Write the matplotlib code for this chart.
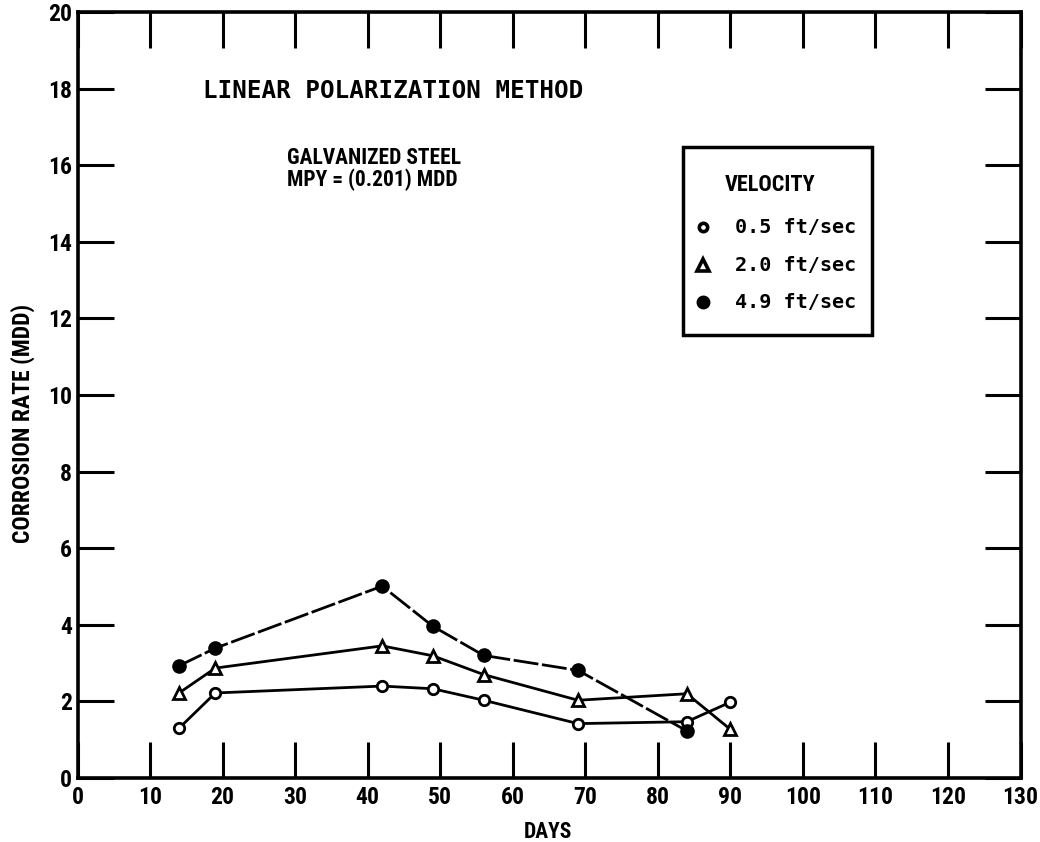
import matplotlib
matplotlib.use("Agg")
import matplotlib.pyplot as plt
from matplotlib import font_manager as fm
from matplotlib.patches import Rectangle

# ---- data ----
days_05 = [14, 19, 42, 49, 56, 69, 84, 90]
rate_05 = [1.30, 2.22, 2.40, 2.33, 2.03, 1.42, 1.47, 1.98]
days_20 = [14, 19, 42, 49, 56, 69, 84, 90]
rate_20 = [2.22, 2.87, 3.45, 3.19, 2.70, 2.03, 2.20, 1.27]
days_49 = [14, 19, 42, 49, 56, 69, 84]
rate_49 = [2.93, 3.39, 5.01, 3.96, 3.20, 2.81, 1.23]
velocity_labels = ["0.5 ft/sec", "2.0 ft/sec", "4.9 ft/sec"]
x_ticks = list(range(0, 131, 10))
y_ticks = list(range(0, 21, 2))

# pick a narrow bold font if one exists
entries = fm.fontManager.ttflist
names = {f.name for f in entries}
narrow_family = None
narrow_stretch = "normal"
for cand in ["Liberation Sans Narrow", "Roboto Condensed", "Open Sans Condensed",
             "DejaVu Sans Condensed", "Arial Narrow"]:
    if cand in names:
        narrow_family = cand
        break
if narrow_family is None:
    for f in entries:
        if f.name in ("DejaVu Sans", "Roboto", "Open Sans", "Noto Sans") and \
                str(f.stretch) in ("condensed", "semi-condensed", "extra-condensed"):
            narrow_family = f.name
            narrow_stretch = f.stretch
            break
if narrow_family is None:
    narrow_family = "DejaVu Sans"
NF = dict(fontfamily=narrow_family, fontstretch=narrow_stretch, fontweight="bold")
mono = "DejaVu Sans Mono"

fig = plt.figure(figsize=(10.4, 8.42), dpi=100)
ax = fig.add_axes([77.5/1040, 64/842, 943/1040, 766/842])
ax.set_xlim(0, 130)
ax.set_ylim(0, 20)

lw = 2.0
ax.plot(days_05, rate_05, color="black", lw=lw, marker="o", ms=7.5,
        mfc="white", mec="black", mew=2.0, zorder=3)
ax.plot(days_20, rate_20, color="black", lw=lw, marker="^", ms=9,
        mfc="white", mec="black", mew=2.0, zorder=3)
ax.plot(days_49, rate_49, color="black", lw=lw, marker="o", ms=9.5,
        mfc="black", mec="black", ls=(0, (9, 1.3)), zorder=3)

for s in ax.spines.values():
    s.set_linewidth(2.6)

ax.set_xticks(x_ticks)
ax.set_yticks(y_ticks)
ax.tick_params(axis="both", direction="in", length=26, width=2.2,
               top=True, right=True, labelsize=17)
ax.tick_params(axis="x", pad=6)
ax.tick_params(axis="y", pad=4)
for lab in ax.get_xticklabels() + ax.get_yticklabels():
    lab.set_fontfamily(NF["fontfamily"])
    lab.set_fontstretch(NF["fontstretch"])
    lab.set_fontweight("bold")

xl = ax.set_xlabel("DAYS", fontsize=15.5, **NF)
xl.set_verticalalignment("center")
ax.xaxis.set_label_coords(0.4990, -0.0705)
yl = ax.set_ylabel("CORROSION RATE (MDD)", fontsize=17, **NF)
yl.set_verticalalignment("center")
yl.set_horizontalalignment("center")
ax.yaxis.set_label_coords(-0.058, 0.463)

ax.text(17.3, 17.94, "LINEAR POLARIZATION METHOD", fontfamily=mono,
        fontweight="bold", fontsize=17.5, va="center", ha="left")
ax.text(28.9, 15.9, "GALVANIZED STEEL\nMPY = (0.201) MDD", fontsize=15.5,
        va="center", ha="left", linespacing=1.0, **NF)

# legend box (manual)
bx0, by0, bx1, by1 = 0.642, 0.578, 0.8425, 0.824
ax.add_patch(Rectangle((bx0, by0), bx1 - bx0, by1 - by0, transform=ax.transAxes,
                       fill=False, lw=2.5, ec="black", zorder=4))
ax.text(0.6866, 0.774, "VELOCITY", transform=ax.transAxes, fontsize=16,
        va="center", ha="left", **NF)
row_y = [0.7193, 0.6697, 0.6214]
styles = [dict(marker="o", ms=6, mfc="white", mec="black", mew=2.6),
          dict(marker="^", ms=9, mfc="white", mec="black", mew=2.6),
          dict(marker="o", ms=9, mfc="black", mec="black")]
for yy, lab, st in zip(row_y, velocity_labels, styles):
    ax.plot([0.6633], [yy], transform=ax.transAxes, ls="none", **st)
    ax.text(0.697, yy, lab, transform=ax.transAxes, fontfamily=mono,
            fontweight="bold", fontsize=14.5, va="center", ha="left")

fig.savefig("out.png", dpi=100)
